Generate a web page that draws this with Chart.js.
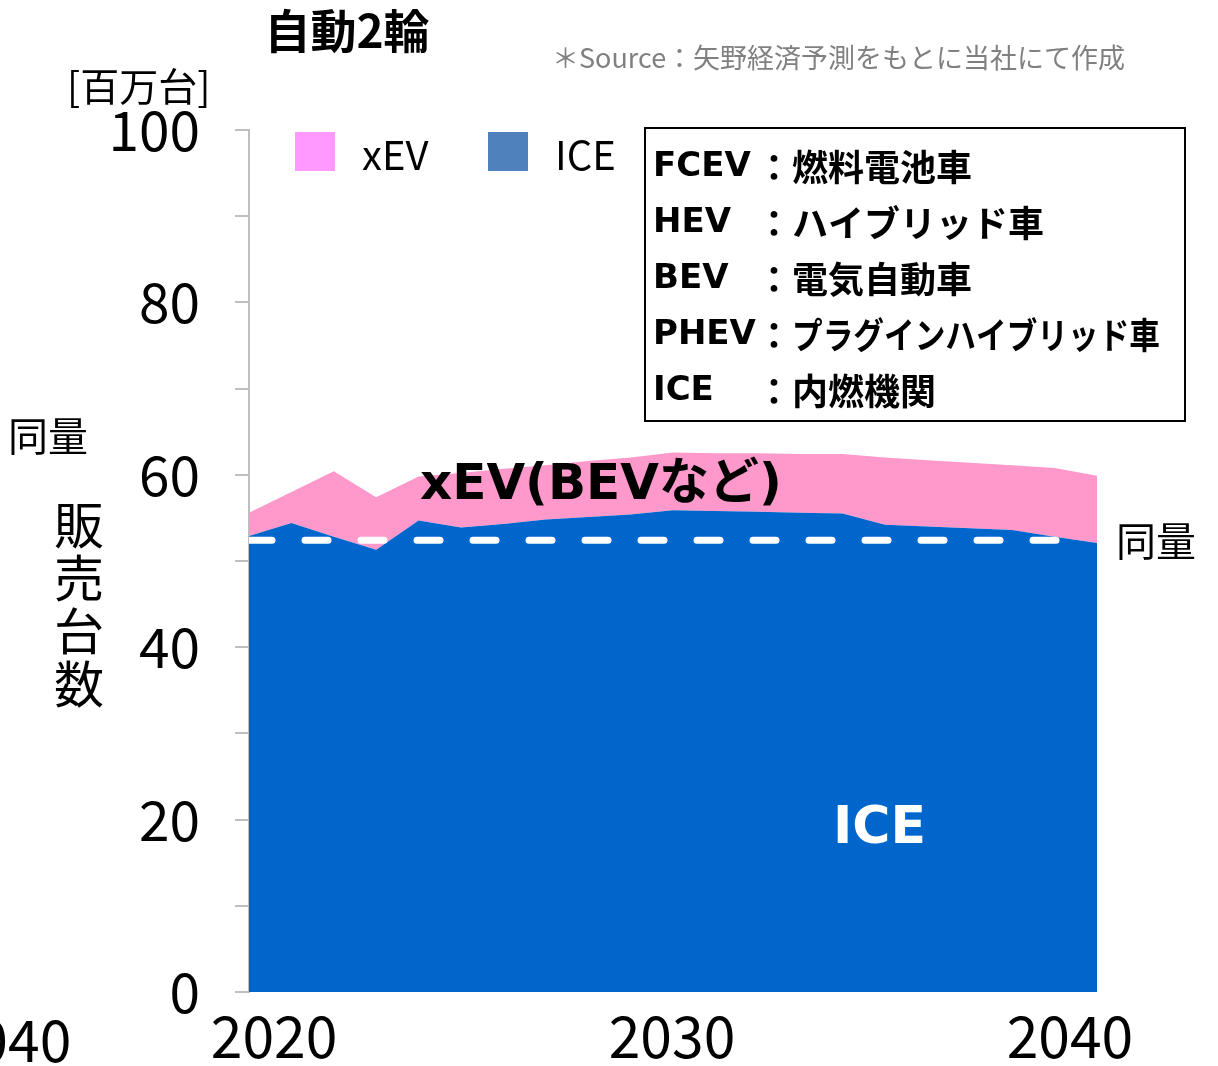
<!DOCTYPE html>
<html>
<head>
<meta charset="utf-8">
<script src="https://cdn.jsdelivr.net/npm/chart.js"></script>
<style>
  body { margin: 0; background: #fff; }
  #wrap { width: 1218px; height: 1066px; }
</style>
</head>
<body>
<div id="wrap"><canvas id="myChart" width="1218" height="1066"></canvas></div>
<script>
// 販売台数 [百万台]
const years = [2020, 2021, 2022, 2023, 2024, 2025, 2026, 2027, 2028, 2029, 2030,
               2031, 2032, 2033, 2034, 2035, 2036, 2037, 2038, 2039, 2040];
const iceSales = [52.9, 54.4, 52.8, 51.3, 54.7, 53.9, 54.3, 54.8, 55.1, 55.4, 55.9,
                  55.8, 55.7, 55.6, 55.5, 54.2, 54.0, 53.8, 53.6, 52.8, 52.1];
const xevSales = [2.7, 3.6, 7.6, 6.1, 5.1, 6.3, 6.4, 6.3, 6.5, 6.6, 6.7,
                  6.7, 6.8, 6.8, 6.9, 7.8, 7.7, 7.6, 7.5, 8.0, 7.8];
const sameLevel = 52.4;          // 同量ライン
const sameLevelEnd = 2039.45;
const tickYears = [2020, 2030, 2040];

const legendNames = ['xEV', 'ICE'];
const defCodes = ['FCEV', 'HEV', 'BEV', 'PHEV', 'ICE'];
const defNames = ['燃料電池車', 'ハイブリッド車', '電気自動車', 'プラグインハイブリッド車', '内燃機関'];

const JP = '"Noto Sans CJK JP", sans-serif';
const BOLD = '"DejaVu Sans", "Noto Sans CJK JP", sans-serif';

const toPoints = (vals) => years.map((y, i) => ({ x: y, y: vals[i] }));

// 文字・凡例・用語の枠
const notes = {
  id: 'notes',
  afterDraw(chart) {
    const ctx = chart.ctx;
    ctx.save();
    ctx.textBaseline = 'middle';

    ctx.fillStyle = '#000';
    ctx.textAlign = 'center';
    ctx.font = 'bold 46px ' + JP;
    ctx.fillText('自動2輪', 347, 31);

    ctx.textAlign = 'left';
    ctx.fillStyle = '#808080';
    ctx.font = '27px ' + JP;
    ctx.fillText('＊Source：矢野経済予測をもとに当社にて作成', 552, 58);

    ctx.fillStyle = '#000';
    ctx.font = '39px ' + JP;
    ctx.fillText('[百万台]', 67, 86);
    ctx.font = '40px ' + JP;
    ctx.fillText('同量', 8, 436);
    ctx.fillText('同量', 1116, 541);

    // 縦書きの軸タイトル
    ctx.textAlign = 'center';
    ctx.font = '50px ' + JP;
    ['販', '売', '台', '数'].forEach((c, i) => ctx.fillText(c, 79, 525 + i * 53));

    // 左端で切れている隣のグラフの年
    ctx.font = '57px ' + JP;
    ctx.fillText('2040', 8, 1040);

    // 凡例
    const legendColors = ['#FF99FF', '#4F81BD'];
    const legendX = [295, 488];
    ctx.textAlign = 'left';
    ctx.font = '40px ' + JP;
    legendNames.forEach((name, i) => {
      ctx.fillStyle = legendColors[i];
      ctx.fillRect(legendX[i], 132, 40, 39);
      ctx.fillStyle = '#000';
      ctx.fillText(name, legendX[i] + 67, 155);
    });

    // エリア上のラベル
    ctx.font = 'bold 50px ' + BOLD;
    ctx.fillText('xEV(BEVなど)', 420, 486);
    ctx.fillStyle = '#fff';
    ctx.font = 'bold 52px ' + BOLD;
    ctx.fillText('ICE', 833, 829);

    // 用語の枠
    ctx.strokeStyle = '#000';
    ctx.lineWidth = 2;
    ctx.strokeRect(645, 128, 540, 293);
    ctx.fillStyle = '#000';
    defCodes.forEach((code, i) => {
      const y = 167 + i * 56;
      ctx.textAlign = 'left';
      ctx.font = 'bold 34px ' + BOLD;
      ctx.fillText(code, 653, y);
      ctx.textAlign = 'center';
      ctx.font = 'bold 36px ' + JP;
      ctx.fillText('：', 774, y);
      ctx.textAlign = 'left';
      ctx.fillText(defNames[i], 792, y, 368);
    });
    ctx.restore();
  }
};

const ctx = document.getElementById('myChart');
const chart = new Chart(ctx, {
  type: 'line',
  data: {
    datasets: [
      {
        label: '同量',
        data: [{ x: years[0], y: sameLevel }, { x: sameLevelEnd, y: sameLevel }],
        stack: 'ref',
        order: -1,
        borderColor: '#fff',
        borderWidth: 7,
        borderDash: [23, 33],
        borderCapStyle: 'round',
        pointRadius: 0,
        fill: false
      },
      {
        label: 'ICE',
        data: toPoints(iceSales),
        stack: 'sales',
        backgroundColor: '#0066CC',
        borderWidth: 0,
        pointRadius: 0,
        fill: 'origin'
      },
      {
        label: 'xEV',
        data: toPoints(xevSales),
        stack: 'sales',
        backgroundColor: '#FF99CC',
        borderWidth: 0,
        pointRadius: 0,
        fill: '-1'
      }
    ]
  },
  options: {
    responsive: false,
    animation: false,
    devicePixelRatio: 1,
    layout: { padding: { top: 130, right: 121, left: 0, bottom: 0 } },
    plugins: { legend: { display: false }, tooltip: { enabled: false } },
    elements: { line: { tension: 0 } },
    scales: {
      x: { type: 'linear', min: 2020, max: 2040, display: false },
      xLabel: {
        type: 'linear',
        position: 'bottom',
        display: true,
        min: 2019.37,
        max: 2040.68,
        afterBuildTicks: (axis) => { axis.ticks = tickYears.map(v => ({ value: v })); },
        afterFit: (axis) => { axis.height = 74; },
        grid: { display: false },
        border: { display: false },
        ticks: {
          autoSkip: false,
          maxRotation: 0,
          padding: 2,
          color: '#000',
          font: { family: JP, size: 57 },
          callback: (v) => String(v)
        }
      },
      y: {
        stacked: true,
        min: 0,
        max: 100,
        afterFit: (axis) => { axis.width = 249; },
        grid: { drawOnChartArea: false, tickLength: 14, color: '#BFBFBF', lineWidth: 2 },
        border: { color: '#BFBFBF', width: 2 },
        ticks: {
          stepSize: 10,
          padding: 35,
          color: '#000',
          font: { family: JP, size: 55 },
          callback: (v) => (v % 20 === 0 ? v : '')
        }
      }
    }
  },
  plugins: [notes]
});
</script>
</body>
</html>
